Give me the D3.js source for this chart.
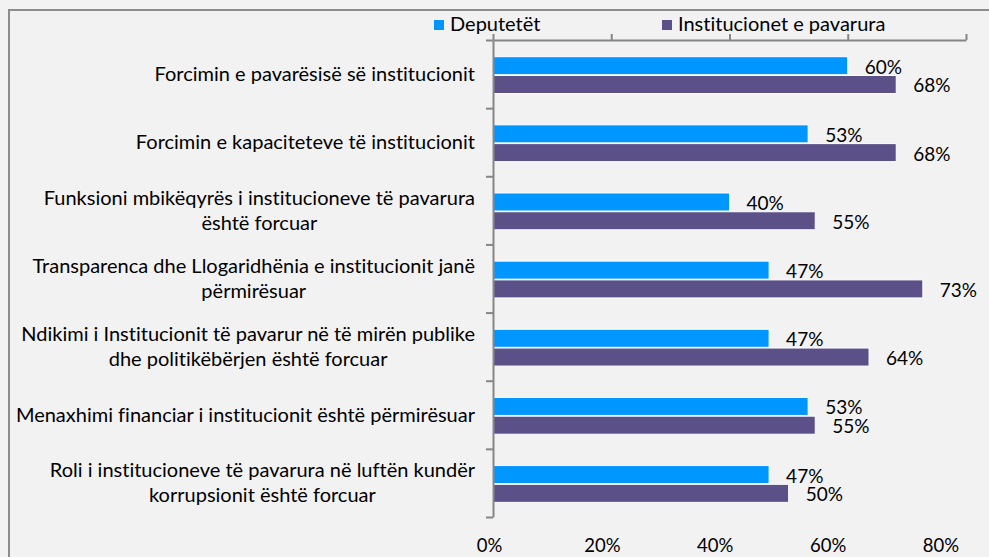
<html>
  <head>
    <meta charset="UTF-8" />
    <script src="https://cdnjs.cloudflare.com/ajax/libs/d3/7.8.5/d3.min.js"></script>
    <style>
      body { margin: 0; background: #f2f2f2; }
      svg { display: block; font-family: Lato, "Open Sans", sans-serif; font-variant-ligatures: none; }
    </style>
  </head>
  <body>
    <svg id="chart" width="989" height="557"></svg>
    <script>
      // categories (top to bottom), each split in the lines shown on the chart
      const categories = [
        ["Forcimin e pavarësisë së institucionit"],
        ["Forcimin e kapaciteteve të institucionit"],
        ["Funksioni mbikëqyrës i institucioneve të pavarura", "është forcuar"],
        ["Transparenca dhe Llogaridhënia e institucionit janë", "përmirësuar"],
        ["Ndikimi i Institucionit të pavarur në të mirën publike", "dhe politikëbërjen është forcuar"],
        ["Menaxhimi financiar i institucionit është përmirësuar"],
        ["Roli i institucioneve të pavarura në luftën kundër", "korrupsionit është forcuar"]
      ];
      const seriesNames = ["Deputetët", "Institucionet e pavarura"];
      const deputetet = [60, 53.3, 40, 46.7, 46.7, 53.3, 46.7];
      const institucionet = [68.2, 68.2, 54.5, 72.7, 63.6, 54.5, 50];
      const tickValues = [0, 20, 40, 60, 80];

      const colors = ["#0096ff", "#5b5087"];
      const axisColor = "#868686";

      const svg = d3.select("#chart");

      svg.append("rect")
        .attr("width", 989).attr("height", 557)
        .attr("fill", "#f2f2f2");

      // outer chart frame (right and bottom edges fall outside the picture)
      svg.append("rect")
        .attr("x", 9).attr("y", 10)
        .attr("width", 1000).attr("height", 600)
        .attr("fill", "none")
        .attr("stroke", "#8c8c8c")
        .attr("stroke-width", 2);

      const x = d3.scaleLinear().domain([0, 80]).range([493, 966]);
      const xLabels = d3.scaleLinear().domain([0, 80]).range([489.5, 941]);
      const idx = d3.range(categories.length);
      const y = d3.scaleBand().domain(idx).range([40, 517]);
      const bw = y.bandwidth();
      const y1 = d3.scaleBand().domain([0, 1])
        .range([bw * 0.245, bw * 0.785])
        .paddingInner(0.04);

      const rows = idx.map(i => ({ i, values: [deputetet[i], institucionet[i]] }));

      // bars
      const groups = svg.append("g").selectAll("g")
        .data(rows).enter().append("g")
        .attr("transform", d => `translate(0, ${y(d.i)})`);

      groups.selectAll("rect")
        .data(d => d.values.map((v, s) => ({ v, s })))
        .enter().append("rect")
        .attr("x", x(0))
        .attr("y", d => y1(d.s))
        .attr("width", d => x(d.v) - x(0))
        .attr("height", y1.bandwidth())
        .attr("fill", d => colors[d.s])
        .attr("stroke", "#ffffff")
        .attr("stroke-width", 1);

      groups.selectAll("text")
        .data(d => d.values.map((v, s) => ({ v, s })))
        .enter().append("text")
        .attr("x", d => x(d.v) + 17)
        .attr("y", d => y1(d.s) + y1.bandwidth() - 1)
        .style("font-size", "19px")
        .style("fill", "#000")
        .text(d => Math.round(d.v) + "%");

      // top value axis (ticks only)
      const topAxis = svg.append("g")
        .attr("transform", "translate(0, 40)")
        .call(d3.axisTop(x).tickValues(tickValues).tickSize(6).tickSizeOuter(0).tickFormat(""));
      topAxis.selectAll("path, line").attr("stroke", axisColor).attr("stroke-width", 2);

      // category axis with ticks between groups
      const yEdges = d3.scaleLinear().domain([0, categories.length]).range([40, 517]);
      const leftAxis = svg.append("g")
        .attr("transform", `translate(${x(0)}, 0)`)
        .call(d3.axisLeft(yEdges).tickValues(d3.range(categories.length + 1)).tickSize(7).tickSizeOuter(0).tickFormat(""));
      leftAxis.selectAll("path, line").attr("stroke", axisColor).attr("stroke-width", 2);

      // bottom value labels
      svg.append("g").selectAll("text")
        .data(tickValues).enter().append("text")
        .attr("x", d => xLabels(d))
        .attr("y", 551.5)
        .attr("text-anchor", "middle")
        .style("font-size", "18.5px")
        .style("fill", "#000")
        .text(d => d + "%");

      // category labels: block right-aligned, lines centred inside the block
      const labelRight = 475;
      const lineH = 25;
      idx.forEach(i => {
        const lines = categories[i];
        const g = svg.append("g");
        const texts = g.selectAll("text").data(lines).enter().append("text")
          .style("font-size", "20px")
          .style("fill", "#000")
          .attr("text-anchor", "middle")
          .text(d => d);
        const maxW = d3.max(texts.nodes(), n => n.getComputedTextLength());
        const cy = y(i) + bw / 2;
        const first = cy + 7 - (lines.length - 1) * lineH / 2;
        texts.attr("x", labelRight - maxW / 2)
          .attr("y", (d, k) => first + k * lineH);
      });

      // legend
      const legendX = [434, 662];
      const legend = svg.append("g").selectAll("g")
        .data(seriesNames).enter().append("g")
        .attr("transform", (d, s) => `translate(${legendX[s]}, 20)`);
      legend.append("rect")
        .attr("width", 10).attr("height", 10)
        .attr("fill", (d, s) => colors[s]);
      legend.append("text")
        .attr("x", 16).attr("y", 10.5)
        .style("font-size", "20px")
        .style("fill", "#000")
        .text(d => d);
    </script>
  </body>
</html>
